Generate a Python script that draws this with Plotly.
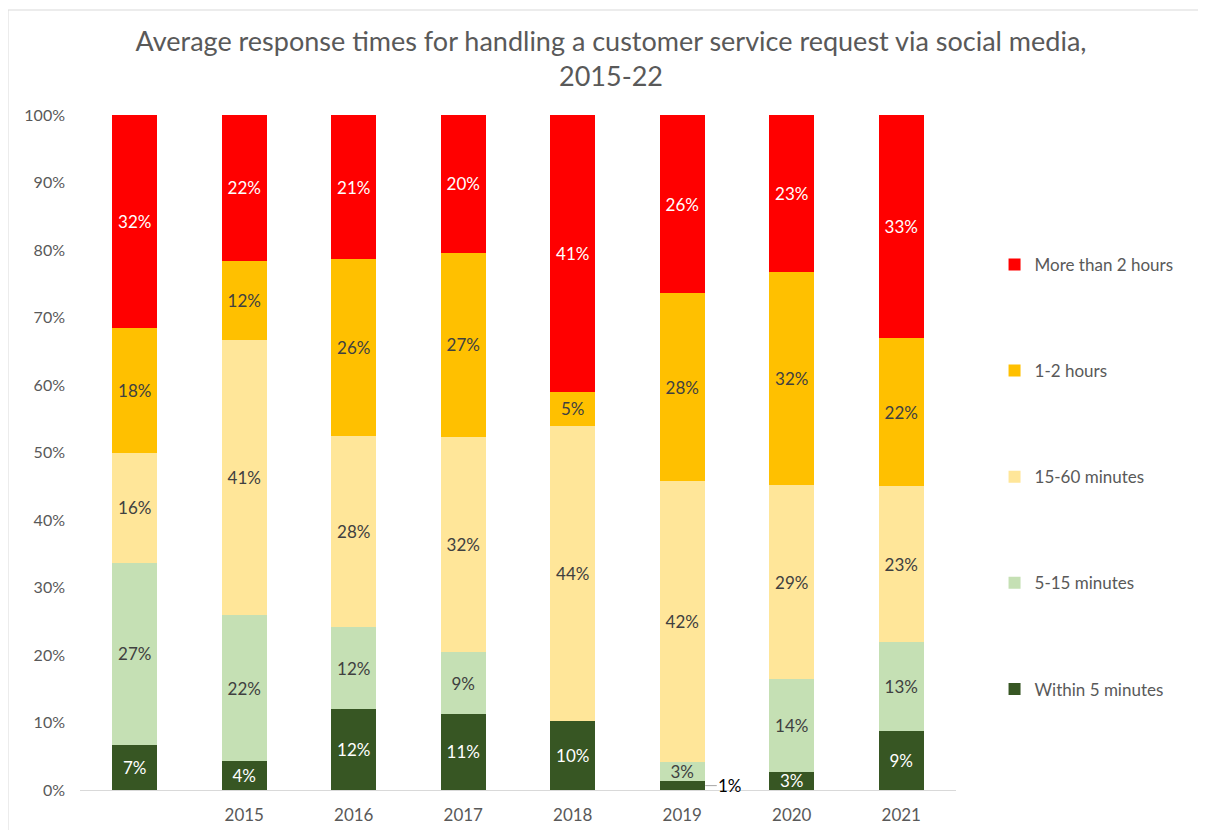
import plotly.graph_objects as go

# categories (first bar has no label in the original)
years = [" ", "2015", "2016", "2017", "2018", "2019", "2020", "2021"]

# shares in percent
within_5 = [6.6, 4.3, 12.0, 11.3, 10.2, 1.3, 2.7, 8.7]
min_5_15 = [27.1, 21.6, 12.1, 9.1, 0.0, 2.8, 13.7, 13.2]
min_15_60 = [16.3, 40.7, 28.4, 31.9, 43.7, 41.7, 28.8, 23.1]
hours_1_2 = [18.4, 11.8, 26.1, 27.3, 5.1, 27.8, 31.5, 22.0]
over_2h = [31.6, 21.6, 21.4, 20.4, 41.0, 26.4, 23.3, 33.0]

y_ticks = list(range(0, 101, 10))

series = [
    ("Within 5 minutes", within_5, "#375623", "white"),
    ("5-15 minutes", min_5_15, "#C5E0B4", "#404040"),
    ("15-60 minutes", min_15_60, "#FFE699", "#404040"),
    ("1-2 hours", hours_1_2, "#FFC000", "#404040"),
    ("More than 2 hours", over_2h, "#FF0000", "white"),
]

W, H = 1206, 830
L, R, T, B = 72, 258, 107, 48
pw, ph = W - L - R, H - T - B

fig = go.Figure()
outside = []
for k, (name, vals, col, tcol) in enumerate(series):
    labels = []
    for i, v in enumerate(vals):
        if v == 0:
            labels.append("")
        elif v < 2:
            labels.append("")
            outside.append((i, v))
        else:
            labels.append(f"{round(v)}%")
    fig.add_trace(go.Bar(
        x=years, y=vals, name=name, legendgroup=name,
        legendrank=100 - k,
        marker=dict(color=col, line=dict(width=0)),
        text=labels, textposition="inside", insidetextanchor="middle",
        textangle=0, textfont=dict(color=tcol, size=17),
        hoverinfo="skip",
    ))

# small values get a leader line + label beside the bar
for i, v in outside:
    fig.add_annotation(
        x=i, y=v / 2, text=f"{round(v)}%", showarrow=True, arrowhead=0,
        arrowwidth=1, arrowcolor="#A6A6A6", xshift=23, ax=25, ay=0,
        font=dict(size=17, color="black"),
    )

# outer chart border
fig.add_shape(type="rect", xref="paper", yref="paper",
              x0=(0 - L) / pw, x1=(W + 5 - L) / pw,
              y0=-(B + 5) / ph, y1=(H - B - 2) / ph,
              line=dict(color="#D9D9D9", width=1), layer="below")

fig.update_layout(
    width=W, height=H,
    margin=dict(l=L, r=R, t=T, b=B),
    barmode="stack", bargap=0.59,
    plot_bgcolor="white", paper_bgcolor="white",
    font=dict(family="Lato", size=17, color="#595959"),
    title=dict(
        text="Average response times for handling a customer service request via social media,<br>2015-22",
        x=0.5, xref="container", xanchor="center",
        y=0.948, yanchor="top",
        font=dict(size=27, color="#595959"),
    ),
    uniformtext=dict(minsize=17, mode="show"),
    legend=dict(
        x=1.044, xanchor="left", y=0.8045, yanchor="top",
        traceorder="grouped", tracegroupgap=81,
        font=dict(size=17, color="#595959"),
    ),
    xaxis=dict(type="category", range=[-0.5, len(years) - 0.5],
               showline=True, linecolor="#D9D9D9", linewidth=1,
               ticks="", showgrid=False, ticklabelstandoff=10,
               tickfont=dict(size=17)),
    yaxis=dict(range=[0, 100], tickmode="array", tickvals=y_ticks,
               ticktext=[f"{t}%" for t in y_ticks], showgrid=False,
               zeroline=False, showline=False, ticklabelstandoff=14,
               tickfont=dict(size=16)),
)

fig.write_html("out.html")
